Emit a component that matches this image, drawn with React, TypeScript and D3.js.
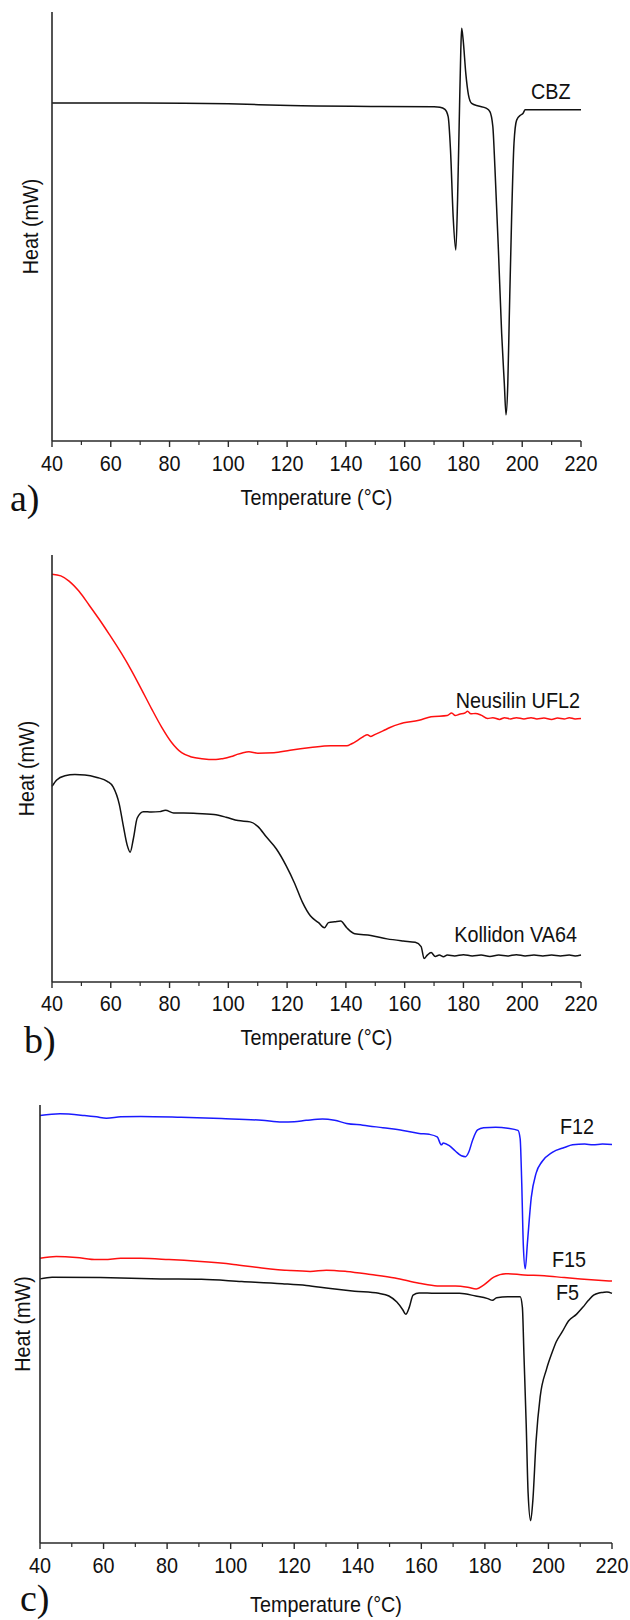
import React from 'react';
import * as d3 from 'd3';

type Pt = [number, number];

const xMajorTicks = [40, 60, 80, 100, 120, 140, 160, 180, 200, 220];
const xMinorTicks = [50, 70, 90, 110, 130, 150, 170, 190, 210];

// Panel a – CBZ
const cbz: Pt[] = [[40,78.8],[70,78.8],[100,78.6],[121,78.2],[150,78.0],[170,77.9],[172,77.8],[173.7,77.3],[174.8,75.6],[175.6,67.8],[176.5,52.3],[177.4,44.5],[178.0,56.2],[178.6,75.6],[179.1,91.1],[179.4,96.2],[179.9,93.5],[180.8,85.7],[181.7,80.7],[182.8,78.7],[185.1,78.1],[187.7,77.6],[189.0,76.8],[190.0,73.3],[190.7,63.9],[191.9,44.5],[193.0,25.1],[193.9,13.5],[194.5,6.1],[195.1,13.5],[195.6,29.0],[196.4,52.3],[197.2,69.4],[198.1,74.8],[199.5,76.0],[200.3,76.4],[201.0,77.2],[220,77.2]];

// Panel b
const neusilin: Pt[] = [[40,95.5],[43,95.1],[45.8,93.9],[49.2,91.5],[52.6,88.3],[56,85.0],[59.5,81.4],[63.6,77.0],[67,73.0],[70.4,68.6],[73.8,64.1],[77.3,59.7],[80.7,56.1],[84.1,53.7],[87.5,52.7],[91,52.3],[95.8,52.1],[98,52.3],[101,52.8],[103,53.3],[105,53.7],[107,53.9],[110,53.6],[115.5,53.7],[121,54.3],[128,54.9],[134.8,55.3],[140.3,55.3],[142,55.8],[144,56.6],[146,57.5],[147.3,57.9],[148.5,57.5],[150,58.0],[152.6,58.8],[155,59.6],[158.1,60.4],[164.9,61.3],[169,62.1],[174.5,62.4],[176,63.0],[177.2,62.4],[178.6,62.7],[180.5,63.0],[181.4,63.4],[182.5,62.8],[184.1,62.9],[186,62.5],[188.2,61.7],[190,61.9],[192.3,61.5],[194,61.9],[196,61.6],[198,61.9],[200.6,61.6],[203,61.9],[205,61.6],[207.4,61.8],[210,61.5],[212,61.8],[214.3,61.6],[216,61.9],[218,61.6],[220,61.7]];

const kollidon: Pt[] = [[40,45.8],[41.6,47.3],[44.4,48.3],[47.8,48.6],[51.2,48.5],[55.3,47.9],[58.8,47.0],[60.8,45.7],[62.9,41.6],[64.2,36.8],[65.6,32.0],[66.6,30.4],[67.7,33.6],[69.0,38.4],[71.1,39.9],[73.8,39.8],[76.6,39.9],[78.6,40.2],[81.4,39.6],[88.2,39.5],[95.1,39.2],[99.2,38.6],[103.3,37.8],[107.4,37.5],[110.1,36.4],[112.9,34.0],[116.3,31.2],[119.7,27.2],[122.5,23.2],[125.2,18.7],[127.9,15.5],[130.7,13.9],[132.7,12.7],[134.1,13.9],[136.2,14.1],[138.2,14.3],[140.3,12.7],[143.0,11.3],[148.5,10.9],[154.0,10.1],[159.5,9.6],[163.6,9.3],[165.6,8.3],[166.6,5.5],[167.7,6.3],[169.0,6.9],[170.4,6.0],[171.8,6.3],[173.2,5.9],[174.5,6.3],[177,6.1],[180,6.4],[183,6.1],[186,6.3],[189,6.0],[192,6.3],[195,6.1],[198,6.4],[201,6.1],[204,6.3],[207,6.1],[210,6.3],[213,6.1],[216,6.3],[218,6.1],[220,6.3]];

// Panel c
const f12: Pt[] = [[40,97.6],[46.3,98.0],[54,97.6],[57.8,97.3],[60.9,97.0],[65.4,97.3],[71.7,97.4],[84.4,97.2],[97.1,96.9],[109.8,96.5],[116.2,96.1],[120,96.2],[123.8,96.5],[128.9,96.8],[132.7,96.5],[136.5,95.8],[141.6,95.4],[147.9,94.8],[154.2,94.2],[159.3,93.5],[162.5,93.3],[165.0,92.7],[166.3,90.9],[166.9,91.3],[168.8,90.7],[170.7,89.5],[172.6,88.4],[173.9,88.2],[174.9,89.2],[176.1,91.9],[177.7,94.3],[179.6,94.8],[183.4,94.9],[187.2,94.7],[190.4,94.2],[191.1,92.3],[191.6,82.1],[192.1,67.9],[192.7,62.6],[193.4,68.7],[194.6,78.9],[196.1,84.4],[198,87.1],[201.2,89.2],[205,90.3],[207.6,90.9],[211.4,91.1],[214,90.9],[217,91.1],[220,91.0]];

const f15: Pt[] = [[40,65.0],[45.1,65.4],[51.4,65.2],[57.8,64.7],[60.3,64.7],[65.4,65.0],[71.7,65.0],[80.6,64.7],[89.5,64.3],[100.9,63.6],[109.8,62.8],[118.7,62.2],[125,62.0],[130.1,62.3],[136.5,62.0],[144.1,61.3],[151.7,60.5],[159.3,59.3],[165.0,58.7],[170.7,58.7],[174.6,58.4],[177.3,58.0],[179.6,58.9],[182.8,60.7],[186.6,61.5],[192.3,61.2],[198.7,61.0],[205,60.6],[210.1,60.3],[220,59.8]];

const f5: Pt[] = [[40,60.3],[43.8,60.7],[59,60.6],[78.1,60.3],[90.8,60.2],[103.5,59.7],[116.2,59.2],[123.8,58.8],[131.4,58.1],[139,57.5],[146.6,57.0],[149.8,56.4],[152.3,55.0],[154.2,53.2],[155.1,52.2],[156.2,53.8],[157.4,56.6],[159.3,57.1],[164.4,57.0],[172,57.0],[177.1,56.4],[180.9,55.8],[182.4,55.4],[183.7,56.0],[187.2,56.2],[191.1,56.2],[191.8,53.8],[192.3,42.8],[193,27.1],[193.6,11.4],[194.4,5.1],[195.1,9.8],[196.1,23.2],[197.4,33.4],[199.4,39.7],[201.2,43.6],[202.5,46.0],[204.4,48.3],[206.3,50.7],[208.8,52.2],[210.8,53.8],[212.6,55.4],[214.2,56.6],[215.9,57.1],[217.1,57.2],[218.4,57.3],[220,57.0]];

interface Series { data: Pt[]; color: string; label: string; lx: number; ly: number; anchor: 'start' | 'end'; }
interface Panel { key: string; x0: number; x1: number; yTop: number; yBot: number; series: Series[]; letter: string; letterX: number; letterY: number; tickY: number; titleY: number; heatX: number; }

const panels: Panel[] = [
  { key: 'a', x0: 52, x1: 581, yTop: 12, yBot: 441, letter: 'a)', letterX: 10, letterY: 511, tickY: 471, titleY: 505, heatX: 30,
    series: [{ data: cbz, color: '#111', label: 'CBZ', lx: 531, ly: 99, anchor: 'start' }] },
  { key: 'b', x0: 52, x1: 581, yTop: 555, yBot: 982, letter: 'b)', letterX: 24, letterY: 1053, tickY: 1011, titleY: 1045, heatX: 26,
    series: [
      { data: neusilin, color: '#ff1010', label: 'Neusilin UFL2', lx: 580, ly: 708, anchor: 'end' },
      { data: kollidon, color: '#111', label: 'Kollidon VA64', lx: 577, ly: 942, anchor: 'end' },
    ] },
  { key: 'c', x0: 40, x1: 612, yTop: 1105, yBot: 1543, letter: 'c)', letterX: 20, letterY: 1611, tickY: 1573, titleY: 1612, heatX: 22,
    series: [
      { data: f12, color: '#1a1aff', label: 'F12', lx: 560, ly: 1134, anchor: 'start' },
      { data: f15, color: '#ff1010', label: 'F15', lx: 552, ly: 1267, anchor: 'start' },
      { data: f5, color: '#111', label: 'F5', lx: 556, ly: 1300, anchor: 'start' },
    ] },
];

const SANS = '"Liberation Sans", Arial, sans-serif';
const SERIF = '"Liberation Serif", "Times New Roman", serif';
const FS = 22;
const SX = 0.9;

function Label({ x, y, anchor = 'middle', rotate = 0, dy, children }: { x: number; y: number; anchor?: string; rotate?: number; dy?: string; children: React.ReactNode }) {
  return (
    <text transform={`translate(${x},${y}) rotate(${rotate}) scale(${SX},1)`} dy={dy} textAnchor={anchor} fontFamily={SANS} fontSize={FS} fill="#111">{children}</text>
  );
}

function PanelView({ p }: { p: Panel }) {
  const x = d3.scaleLinear().domain([40, 220]).range([p.x0, p.x1]);
  const y = d3.scaleLinear().domain([0, 100]).range([p.yBot, p.yTop]);
  const line = d3.line<Pt>().x(d => x(d[0])).y(d => y(d[1])).curve(d3.curveMonotoneX);
  const axisColor = '#2a2a2a';
  return (
    <g>
      {p.series.map(s => (
        <path key={s.label} d={line(s.data) || ''} fill="none" stroke={s.color} strokeWidth={1.5} strokeLinejoin="round" />
      ))}
      <line x1={p.x0} x2={p.x0} y1={p.yTop} y2={p.yBot} stroke={axisColor} strokeWidth={1.6} />
      <line x1={p.x0} x2={p.x1} y1={p.yBot} y2={p.yBot} stroke={axisColor} strokeWidth={1.6} />
      {xMajorTicks.map(t => (
        <g key={'M' + t}>
          <line x1={x(t)} x2={x(t)} y1={p.yBot} y2={p.yBot + 6} stroke={axisColor} strokeWidth={1.4} />
          <Label x={x(t)} y={p.tickY}>{t}</Label>
        </g>
      ))}
      {xMinorTicks.map(t => (
        <line key={'m' + t} x1={x(t)} x2={x(t)} y1={p.yBot} y2={p.yBot + 4} stroke={axisColor} strokeWidth={1.2} />
      ))}
      <Label x={(p.x0 + p.x1) / 2} y={p.titleY}>Temperature (°C)</Label>
      <Label x={p.heatX} y={(p.yTop + p.yBot) / 2} rotate={-90} dy="0.36em">Heat (mW)</Label>
      <text x={p.letterX} y={p.letterY} fontFamily={SERIF} fontSize={38} fill="#111">{p.letter}</text>
      {p.series.map(s => (
        <Label key={'l' + s.label} x={s.lx} y={s.ly} anchor={s.anchor}>{s.label}</Label>
      ))}
    </g>
  );
}

export default function App() {
  return (
    <svg width={630} height={1620} viewBox="0 0 630 1620" style={{ position: 'absolute', left: 0, top: 0, background: '#fff' }}>
      <rect x={0} y={0} width={630} height={1620} fill="#fff" />
      {panels.map(p => <PanelView key={p.key} p={p} />)}
    </svg>
  );
}
